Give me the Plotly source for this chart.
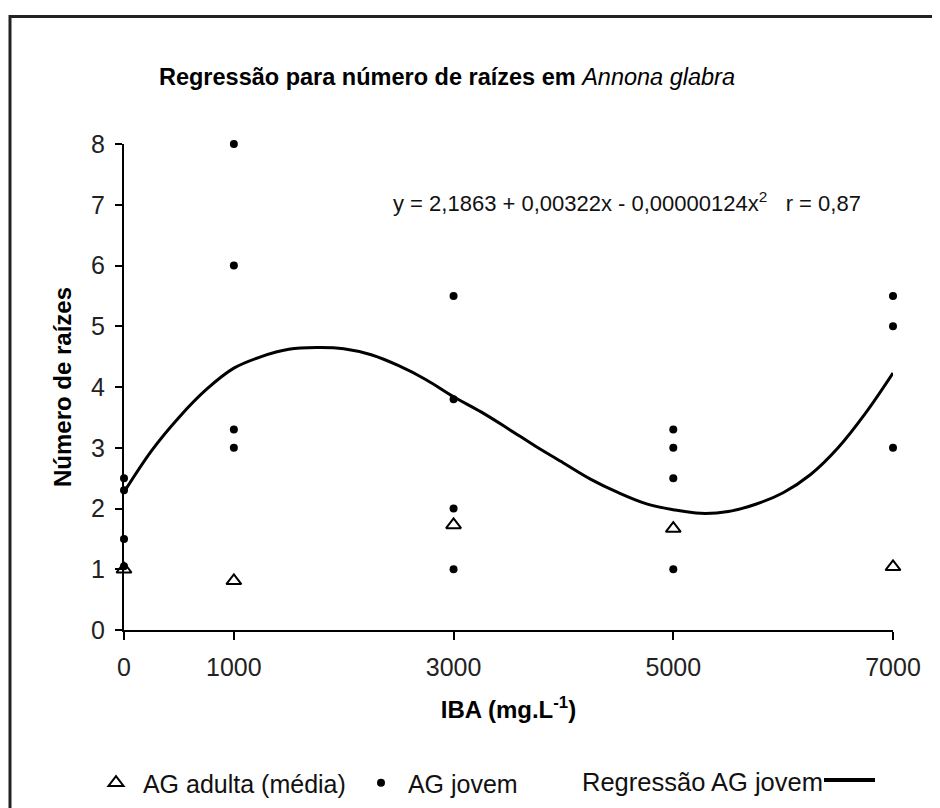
import plotly.graph_objects as go

# ---- data ----
doses = [0, 1000, 3000, 5000, 7000]
adulta_media = [1.0, 0.81, 1.73, 1.67, 1.04]

jovem_dose = [0, 0, 0, 0,
              1000, 1000, 1000, 1000,
              3000, 3000, 3000, 3000,
              5000, 5000, 5000, 5000,
              7000, 7000, 7000]
jovem_y = [2.5, 2.3, 1.5, 1.05,
           8.0, 6.0, 3.3, 3.0,
           5.5, 3.8, 2.0, 1.0,
           3.3, 3.0, 2.5, 1.0,
           5.5, 5.0, 3.0]

# regression curve for AG jovem
regressao_x = [0, 250, 500, 750, 1000, 1250, 1500, 1750, 2000, 2250, 2500,
               2750, 3000, 3250, 3500, 3750, 4000, 4250, 4500, 4750, 5000,
               5250, 5500, 5750, 6000, 6250, 6500, 6750, 7000]
regressao_y = [2.27, 2.95, 3.50, 3.96, 4.31, 4.50, 4.62, 4.65, 4.63, 4.53, 4.35,
               4.12, 3.84, 3.59, 3.31, 3.02, 2.75, 2.48, 2.26, 2.08, 1.98,
               1.92, 1.95, 2.07, 2.26, 2.56, 3.00, 3.57, 4.23]

x_ticks = [0, 1000, 3000, 5000, 7000]
y_ticks = [0, 1, 2, 3, 4, 5, 6, 7, 8]

# ---- layout geometry (screen pixels; page body has an 8px margin) ----
OFF = 8
W, H = 940 - OFF, 808 - OFF
PLOT_L, PLOT_R, PLOT_T, PLOT_B = 124, 893, 144, 630   # screen px of plot area
L, T = PLOT_L - OFF, PLOT_T - OFF
R, B = W - (PLOT_R - OFF), H - (PLOT_B - OFF)
PW, PH = PLOT_R - PLOT_L, PLOT_B - PLOT_T


def px(xs):
    return (xs - PLOT_L) / PW


def py(ys):
    return (PLOT_B - ys) / PH


def cx(xs):
    return (xs - OFF) / W


def cy(ys):
    return 1 - (ys - OFF) / H


FONT = "Liberation Sans, Arial, sans-serif"
INK = "#111111"
NB = "\u00a0"

fig = go.Figure()

fig.add_trace(go.Scatter(
    x=regressao_x, y=regressao_y, mode="lines",
    line=dict(color="black", width=3, shape="spline", smoothing=1.0),
    name="Regressão AG jovem", showlegend=False, cliponaxis=False,
    hoverinfo="skip"))

fig.add_trace(go.Scatter(
    x=doses, y=adulta_media, mode="markers",
    marker=dict(symbol="triangle-up-open", size=13, color="black",
                line=dict(color="black", width=2)),
    name=NB + "AG adulta (média)", cliponaxis=False))

fig.add_trace(go.Scatter(
    x=jovem_dose, y=jovem_y, mode="markers",
    marker=dict(symbol="circle", size=8, color="black"),
    name=NB + "AG jovem", cliponaxis=False))

fig.update_layout(
    width=W, height=H,
    margin=dict(l=L, r=R, t=T, b=B, pad=0, autoexpand=False),
    paper_bgcolor="white", plot_bgcolor="white",
    font=dict(family=FONT, size=25, color=INK),
    title=dict(
        text="<b>Regressão para número de raízes em </b><i>Annona glabra</i>",
        x=cx(447), xref="container", xanchor="center",
        y=cy(77), yref="container", yanchor="middle",
        font=dict(family=FONT, size=23.5, color="black")),
    xaxis=dict(
        range=[0, 7000], tickvals=x_ticks, ticktext=[str(v) for v in x_ticks],
        showline=True, linecolor="black", linewidth=2,
        ticks="outside", ticklen=8, tickwidth=1.5, tickcolor="black",
        showgrid=False, zeroline=False, ticklabelstandoff=6,
        tickfont=dict(family=FONT, size=25, color="#222222"),
        title=dict(text="<b>IBA (mg.L<sup>-1</sup>)</b>", standoff=21,
                   font=dict(family=FONT, size=24, color="black"))),
    yaxis=dict(
        range=[0, 8], tickvals=y_ticks,
        showline=True, linecolor="black", linewidth=2,
        ticks="outside", ticklen=7, tickwidth=1.5, tickcolor="black",
        showgrid=False, zeroline=False, ticklabelstandoff=5,
        tickfont=dict(family=FONT, size=25, color="#222222"),
        title=dict(text="<b>Número de raízes</b>", standoff=13,
                   font=dict(family=FONT, size=24, color="black"))),
    legend=dict(
        orientation="h", xref="container", yref="container",
        x=cx(96), y=cy(783), xanchor="left", yanchor="middle",
        font=dict(family=FONT, size=25, color=INK),
        bgcolor="rgba(0,0,0,0)", borderwidth=0,
        entrywidth=220, entrywidthmode="pixels",
        itemsizing="trace"),
    showlegend=True,
)

# manual legend entry for the regression line (line drawn after the text)
fig.add_annotation(
    text="Regressão AG jovem", xref="paper", yref="paper",
    x=px(825), y=py(782), xanchor="right", yanchor="middle",
    showarrow=False, font=dict(family=FONT, size=25.5, color=INK))
fig.add_shape(type="line", xref="paper", yref="paper",
              x0=px(824), x1=px(875), y0=py(780), y1=py(780),
              line=dict(color="black", width=4))

# equation
fig.add_annotation(
    text="y = 2,1863 + 0,00322x - 0,00000124x<sup>2</sup>" + NB * 3 + "r = 0,87",
    xref="paper", yref="paper", x=px(391), y=py(202),
    xanchor="left", yanchor="middle", showarrow=False,
    font=dict(family=FONT, size=22, color=INK))

# outer frame
fig.add_shape(type="rect", xref="paper", yref="paper",
              x0=px(10), x1=px(990), y0=py(16.5), y1=py(860),
              line=dict(color="#222222", width=3), layer="below")

fig.write_html("out.html")
